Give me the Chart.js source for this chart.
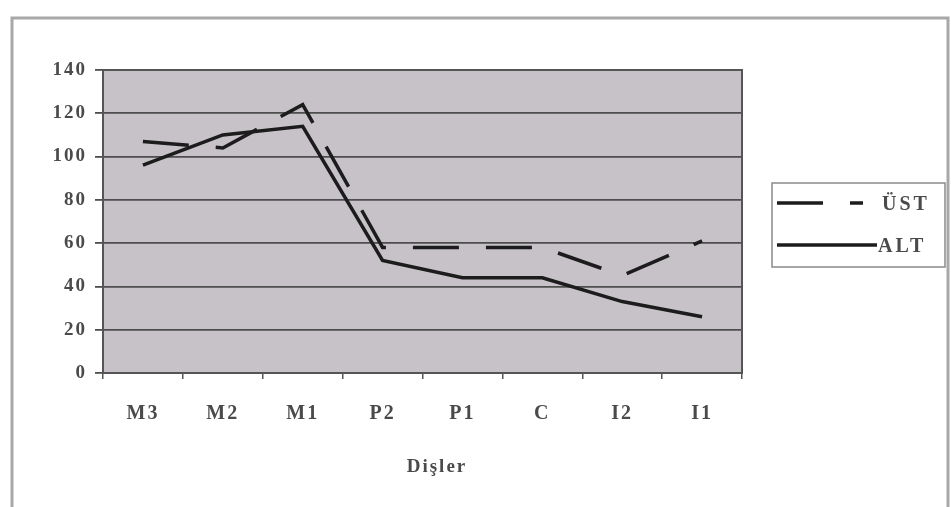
<!DOCTYPE html>
<html>
<head>
<meta charset="utf-8">
<script src="https://cdn.jsdelivr.net/npm/chart.js@4/dist/chart.umd.min.js"></script>
<style>
  html, body { margin: 0; padding: 0; background: #ffffff; }
  #wrap { width: 951px; height: 507px; position: relative; }
</style>
</head>
<body>
<div id="wrap"><canvas id="c" width="951" height="507"></canvas></div>
<script>
// Teeth, from the back of the arch to the front
const categories = ['M3', 'M2', 'M1', 'P2', 'P1', 'C', 'I2', 'I1'];
// Upper jaw (ÜST) and lower jaw (ALT) values
const ustValues = [107, 104, 124, 58, 58, 58, 45, 61];
const altValues = [96, 110, 114, 52, 44, 44, 33, 26];
const yTicks = [0, 20, 40, 60, 80, 100, 120, 140];
const xAxisTitle = 'Dişler';

const SERIF = '"Liberation Serif", "DejaVu Serif", serif';
const TEXT_COLOR = '#4a4a4a';
const UST_DASH = [46, 27];

// Grey plot-area fill, the outer chart frame and letter spacing for all text
const backdrop = {
  id: 'backdrop',
  beforeDraw(chart) {
    const { ctx, chartArea: a } = chart;
    ctx.letterSpacing = '2px';
    ctx.save();
    ctx.strokeStyle = '#a8a8a8';
    ctx.lineWidth = 3;
    ctx.beginPath();
    ctx.moveTo(12, 507);
    ctx.lineTo(12, 18);
    ctx.lineTo(948, 18);
    ctx.lineTo(948, 507);
    ctx.stroke();
    ctx.fillStyle = '#c6c2c8';
    ctx.fillRect(a.left, a.top, a.right - a.left, a.bottom - a.top);
    ctx.restore();
  },
  afterDatasetsDraw(chart) {
    const { ctx, chartArea: a } = chart;
    ctx.save();
    ctx.strokeStyle = '#555555';
    ctx.lineWidth = 2;
    ctx.strokeRect(a.left, a.top, a.right - a.left, a.bottom - a.top);
    ctx.restore();
  }
};

// Boxed legend to the right of the plot, plus the category axis title
const sideLegend = {
  id: 'sideLegend',
  afterDraw(chart) {
    const { ctx } = chart;
    const ds = chart.data.datasets;
    ctx.save();
    ctx.strokeStyle = '#8a8a8a';
    ctx.lineWidth = 1.5;
    ctx.strokeRect(772, 183, 173, 84);
    const rows = [
      { y: 203, x0: 777, x1: 863, textX: 882, ds: ds[0] },
      { y: 245, x0: 777, x1: 877, textX: 878, ds: ds[1] }
    ];
    rows.forEach(r => {
      ctx.strokeStyle = r.ds.borderColor;
      ctx.lineWidth = r.ds.borderWidth;
      ctx.setLineDash(r.ds.borderDash || []);
      ctx.beginPath();
      ctx.moveTo(r.x0, r.y);
      ctx.lineTo(r.x1, r.y);
      ctx.stroke();
      ctx.setLineDash([]);
      ctx.fillStyle = TEXT_COLOR;
      ctx.font = 'bold 20px ' + SERIF;
      ctx.letterSpacing = '3px';
      ctx.textBaseline = 'middle';
      ctx.textAlign = 'left';
      ctx.fillText(r.ds.label, r.textX, r.y + 2);
    });

    ctx.fillStyle = TEXT_COLOR;
    ctx.font = 'bold 19px ' + SERIF;
    ctx.letterSpacing = '2px';
    ctx.textAlign = 'center';
    ctx.textBaseline = 'middle';
    ctx.fillText(xAxisTitle, 437, 467);
    ctx.restore();
  }
};

new Chart(document.getElementById('c'), {
  type: 'line',
  data: {
    labels: categories,
    datasets: [
      {
        label: 'ÜST',
        data: ustValues,
        borderColor: '#1c1c1c',
        borderWidth: 3.5,
        borderDash: UST_DASH,
        pointRadius: 0,
        tension: 0,
        fill: false
      },
      {
        label: 'ALT',
        data: altValues,
        borderColor: '#1c1c1c',
        borderWidth: 3.5,
        pointRadius: 0,
        tension: 0,
        fill: false
      }
    ]
  },
  options: {
    responsive: false,
    animation: false,
    layout: { padding: { top: 70, right: 209, left: 0, bottom: 0 } },
    plugins: {
      legend: { display: false },
      tooltip: { enabled: false }
    },
    scales: {
      x: {
        offset: true,
        grid: {
          offset: true,
          drawOnChartArea: false,
          drawTicks: true,
          tickLength: 6,
          color: '#555555',
          lineWidth: 1.5
        },
        border: { display: false },
        ticks: {
          color: TEXT_COLOR,
          font: { family: SERIF, size: 20, weight: 'bold' },
          padding: 23,
          maxRotation: 0
        },
        afterFit(scale) { scale.height = 134; }
      },
      y: {
        min: 0,
        max: 140,
        afterBuildTicks(scale) { scale.ticks = yTicks.map(v => ({ value: v })); },
        grid: {
          color: '#4e4e4e',
          lineWidth: 1.8,
          drawTicks: true,
          tickLength: 8
        },
        border: { display: false },
        ticks: {
          color: TEXT_COLOR,
          font: { family: SERIF, size: 19, weight: 'bold' },
          padding: 8
        },
        afterFit(scale) { scale.width = 103; }
      }
    }
  },
  plugins: [backdrop, sideLegend]
});
</script>
</body>
</html>
